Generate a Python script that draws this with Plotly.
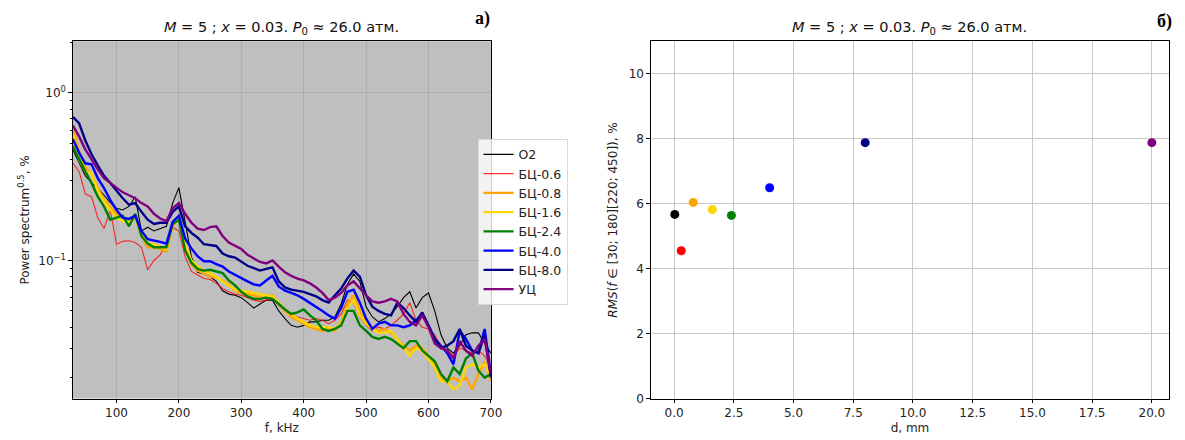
import numpy as np
import plotly.graph_objects as go

# ---------------- data ----------------
freq_khz = list(range(30, 701, 10))

o2 = [0.46, 0.38, 0.32, 0.29, 0.27, 0.245, 0.222, 0.205, 0.20, 0.21, 0.24, 0.15, 0.158, 0.15, 0.155, 0.16,
      0.22, 0.272, 0.17, 0.105, 0.085, 0.083, 0.08, 0.075, 0.066, 0.063, 0.062, 0.060, 0.056, 0.052, 0.055,
      0.058, 0.058, 0.05, 0.045, 0.041, 0.040, 0.041, 0.043, 0.043, 0.044, 0.044, 0.046, 0.055, 0.072, 0.083,
      0.075, 0.053, 0.046, 0.043, 0.045, 0.048, 0.053, 0.06, 0.065, 0.052, 0.06, 0.064, 0.050, 0.036, 0.030,
      0.028, 0.031, 0.036, 0.037, 0.037, 0.032, 0.028]
bc06 = [0.38, 0.34, 0.25, 0.24, 0.18, 0.155, 0.20, 0.125, 0.13, 0.131, 0.128, 0.12, 0.088, 0.10, 0.108, 0.125,
        0.158, 0.15, 0.105, 0.086, 0.082, 0.078, 0.077, 0.073, 0.068, 0.065, 0.063, 0.062, 0.060, 0.058, 0.057,
        0.058, 0.060, 0.054, 0.050, 0.048, 0.046, 0.045, 0.044, 0.045, 0.044, 0.042, 0.044, 0.048, 0.058, 0.056,
        0.046, 0.041, 0.038, 0.040, 0.039, 0.041, 0.044, 0.048, 0.056, 0.044, 0.040, 0.039, 0.036, 0.031, 0.029,
        0.027, 0.030, 0.029, 0.028, 0.029, 0.027, 0.023]
bc08 = [0.62, 0.45, 0.36, 0.33, 0.27, 0.23, 0.21, 0.19, 0.18, 0.17, 0.18, 0.14, 0.12, 0.12, 0.117, 0.113,
        0.16, 0.18, 0.12, 0.095, 0.087, 0.083, 0.08, 0.079, 0.076, 0.072, 0.066, 0.064, 0.063, 0.062, 0.06,
        0.06, 0.062, 0.055, 0.05, 0.046, 0.044, 0.042, 0.040, 0.039, 0.038, 0.039, 0.038, 0.043, 0.055, 0.062,
        0.05, 0.043, 0.040, 0.038, 0.039, 0.037, 0.034, 0.031, 0.029, 0.031, 0.030, 0.027, 0.024, 0.020, 0.019,
        0.020, 0.019, 0.020, 0.017, 0.021, 0.025, 0.019]
bc16 = [0.57, 0.40, 0.34, 0.33, 0.26, 0.225, 0.20, 0.18, 0.172, 0.17, 0.185, 0.145, 0.126, 0.125, 0.12, 0.117,
        0.17, 0.185, 0.125, 0.10, 0.092, 0.087, 0.084, 0.08, 0.075, 0.071, 0.067, 0.066, 0.065, 0.064, 0.063,
        0.062, 0.061, 0.056, 0.051, 0.048, 0.045, 0.043, 0.041, 0.040, 0.040, 0.040, 0.039, 0.042, 0.052, 0.058,
        0.047, 0.042, 0.039, 0.037, 0.037, 0.038, 0.034, 0.030, 0.027, 0.030, 0.029, 0.026, 0.023, 0.019, 0.019,
        0.017, 0.018, 0.023, 0.024, 0.023, 0.024, 0.02]
bc24 = [0.48, 0.40, 0.34, 0.29, 0.24, 0.21, 0.175, 0.18, 0.185, 0.16, 0.19, 0.14, 0.126, 0.12, 0.12, 0.12,
        0.165, 0.175, 0.115, 0.097, 0.089, 0.087, 0.088, 0.086, 0.084, 0.076, 0.071, 0.065, 0.061, 0.059, 0.059,
        0.06, 0.059, 0.055, 0.051, 0.048, 0.049, 0.051, 0.047, 0.044, 0.039, 0.038, 0.039, 0.041, 0.050, 0.050,
        0.041, 0.038, 0.035, 0.034, 0.035, 0.034, 0.032, 0.030, 0.033, 0.033, 0.029, 0.027, 0.025, 0.021, 0.019,
        0.023, 0.021, 0.026, 0.028, 0.022, 0.020, 0.021]
bc40 = [0.53, 0.44, 0.38, 0.375, 0.31, 0.27, 0.23, 0.20, 0.18, 0.177, 0.185, 0.15, 0.134, 0.132, 0.129, 0.126,
        0.17, 0.185, 0.135, 0.118, 0.106, 0.099, 0.099, 0.095, 0.092, 0.086, 0.082, 0.078, 0.075, 0.072, 0.071,
        0.076, 0.081, 0.07, 0.066, 0.064, 0.062, 0.059, 0.056, 0.053, 0.05, 0.047, 0.045, 0.052, 0.065, 0.067,
        0.056, 0.045, 0.039, 0.042, 0.043, 0.041, 0.041, 0.040, 0.041, 0.044, 0.048, 0.041, 0.034, 0.031, 0.028,
        0.024, 0.038, 0.034, 0.029, 0.028, 0.039, 0.021]
bc80 = [0.72, 0.66, 0.52, 0.43, 0.37, 0.32, 0.29, 0.26, 0.235, 0.215, 0.22, 0.195, 0.175, 0.165, 0.168, 0.168,
        0.195, 0.21, 0.16, 0.146, 0.137, 0.125, 0.124, 0.122, 0.11, 0.106, 0.104, 0.098, 0.093, 0.09, 0.087,
        0.089, 0.091, 0.075, 0.069, 0.067, 0.066, 0.065, 0.063, 0.061, 0.058, 0.056, 0.062, 0.068, 0.078, 0.087,
        0.08, 0.062, 0.053, 0.05, 0.048, 0.047, 0.056, 0.052, 0.047, 0.043, 0.049, 0.041, 0.034, 0.030, 0.031,
        0.033, 0.039, 0.031, 0.029, 0.028, 0.036, 0.020]
uc = [0.64, 0.55, 0.46, 0.40, 0.35, 0.31, 0.29, 0.272, 0.255, 0.245, 0.235, 0.22, 0.21, 0.19, 0.178, 0.172,
      0.205, 0.22, 0.19, 0.168, 0.155, 0.152, 0.158, 0.16, 0.14, 0.128, 0.123, 0.117, 0.108, 0.103, 0.098,
      0.096, 0.10, 0.092, 0.085, 0.081, 0.078, 0.076, 0.073, 0.069, 0.064, 0.058, 0.06, 0.064, 0.071, 0.075,
      0.068, 0.062, 0.057, 0.056, 0.057, 0.059, 0.057, 0.048, 0.043, 0.041, 0.047, 0.040, 0.032, 0.030, 0.029,
      0.026, 0.033, 0.029, 0.027, 0.031, 0.034, 0.021]

series_names = ["O2", "БЦ-0.6", "БЦ-0.8", "БЦ-1.6", "БЦ-2.4", "БЦ-4.0", "БЦ-8.0", "УЦ"]
series_values = [o2, bc06, bc08, bc16, bc24, bc40, bc80, uc]

d_mm = [0.03, 0.3, 0.8, 1.6, 2.4, 4.0, 8.0, 20.0]
rms_pct = [5.67, 4.55, 6.04, 5.82, 5.64, 6.49, 7.88, 7.88]

x_ticks_left = [100, 200, 300, 400, 500, 600, 700]
y_ticks_left = [0.1, 1.0]
y_ticktext_left = ["10<sup>−1</sup>", "10<sup>0</sup>"]
y_minor_left = [0.02, 0.03, 0.04, 0.05, 0.06, 0.07, 0.08, 0.09,
                0.2, 0.3, 0.4, 0.5, 0.6, 0.7, 0.8, 0.9, 2.0]
x_ticks_right = [0.0, 2.5, 5.0, 7.5, 10.0, 12.5, 15.0, 17.5, 20.0]
y_ticks_right = [0, 2, 4, 6, 8, 10]

# ---------------- styles ----------------
colors = ["black", "rgba(255,0,0,0.8)", "#FFA500", "#FFD700", "#008000", "#0000FF", "#00008B", "#800080"]
widths = [1.1, 1.1, 2.4, 2.4, 2.4, 2.4, 2.4, 2.4]
pt_colors = ["black", "red", "#FFA500", "#FFD700", "#008000", "#0000FF", "#00008B", "#800080"]

W, H = 1185, 440
FONT = "DejaVu Sans"
FS = 12
def px_x(p):
    return p / W
def px_y(p):
    return 1 - p / H

fig = go.Figure()
for name, vals, c, w in zip(series_names, series_values, colors, widths):
    fig.add_trace(go.Scatter(x=freq_khz, y=vals, mode="lines", name=name,
                             line=dict(color=c, width=w), xaxis="x", yaxis="y"))

fig.add_trace(go.Scatter(x=d_mm, y=rms_pct, mode="markers", showlegend=False,
                         marker=dict(color=pt_colors, size=9, line=dict(width=0)),
                         xaxis="x2", yaxis="y2"))

axis_common = dict(showline=True, mirror=True, linecolor="black", linewidth=1,
                   ticks="outside", ticklen=3.5, tickcolor="black",
                   tickfont=dict(family=FONT, size=FS, color="#222"),
                   zeroline=False)

title_txt = "<i>M</i> = 5 ; <i>x</i> = 0.03. <i>P</i><sub>0</sub> ≈ 26.0 атм."

fig.update_layout(
    width=W, height=H,
    margin=dict(l=0, r=0, t=0, b=0),
    paper_bgcolor="white",
    font=dict(family=FONT, size=FS, color="#222"),
    xaxis=dict(domain=[px_x(73.5), px_x(495.5)], range=[30, 700], tickvals=x_ticks_left,
               showgrid=True, gridcolor="#aeaeae", gridwidth=0.8,
               title=dict(text="f, kHz", font=dict(family=FONT, size=FS), standoff=4),
               anchor="y", **axis_common),
    yaxis=dict(domain=[px_y(405), px_y(42)], type="log",
               range=[np.log10(0.015), np.log10(2.03)],
               tickvals=y_ticks_left, ticktext=y_ticktext_left,
               showgrid=True, gridcolor="#aeaeae", gridwidth=0.8,
               minor=dict(tickvals=y_minor_left, ticks="outside", ticklen=2, tickcolor="black", showgrid=False),
               title=dict(text="Power spectrum<sup>0.5</sup>, %", font=dict(family=FONT, size=FS), standoff=6),
               anchor="x", **axis_common),
    xaxis2=dict(domain=[px_x(657), px_x(1180)], range=[-0.97, 20.72], tickvals=x_ticks_right,
                ticktext=[f"{v:.1f}" for v in x_ticks_right],
                showgrid=True, gridcolor="#c8c8c8", gridwidth=1,
                title=dict(text="d, mm", font=dict(family=FONT, size=FS), standoff=4),
                anchor="y2", **axis_common),
    yaxis2=dict(domain=[px_y(405), px_y(42)], range=[0, 11], tickvals=y_ticks_right,
                showgrid=True, gridcolor="#c8c8c8", gridwidth=1,
                title=dict(text="<i>RMS</i>(<i>f</i> ∈ [30; 180][220; 450]), %",
                           font=dict(family=FONT, size=FS), standoff=8),
                anchor="x2", **axis_common),
    plot_bgcolor="white",
    legend=dict(x=px_x(482), y=px_y(141), xanchor="left", yanchor="top",
                bgcolor="rgba(255,255,255,0.8)", bordercolor="#d8d8d8", borderwidth=1,
                font=dict(family=FONT, size=12.5, color="#222"), tracegroupgap=0, itemwidth=30),
    shapes=[dict(type="rect", xref="x domain", yref="y domain", x0=0, x1=1, y0=0, y1=1,
                 fillcolor="#bfbfbf", line=dict(width=0), layer="below")],
    annotations=[
        dict(text=title_txt, xref="paper", yref="paper", x=px_x(284.5), y=px_y(28),
             showarrow=False, font=dict(family=FONT, size=14.5, color="#111"), xanchor="center", yanchor="middle"),
        dict(text=title_txt, xref="paper", yref="paper", x=px_x(918.5), y=px_y(28),
             showarrow=False, font=dict(family=FONT, size=14.5, color="#111"), xanchor="center", yanchor="middle"),
        dict(text="<b>а)</b>", xref="paper", yref="paper", x=px_x(487), y=px_y(19),
             showarrow=False, font=dict(family="Liberation Serif", size=18, color="black"),
             xanchor="center", yanchor="middle"),
        dict(text="<b>б)</b>", xref="paper", yref="paper", x=px_x(1175), y=px_y(22),
             showarrow=False, font=dict(family="Liberation Serif", size=18, color="black"),
             xanchor="center", yanchor="middle"),
    ],
)

fig.write_html("out.html")
